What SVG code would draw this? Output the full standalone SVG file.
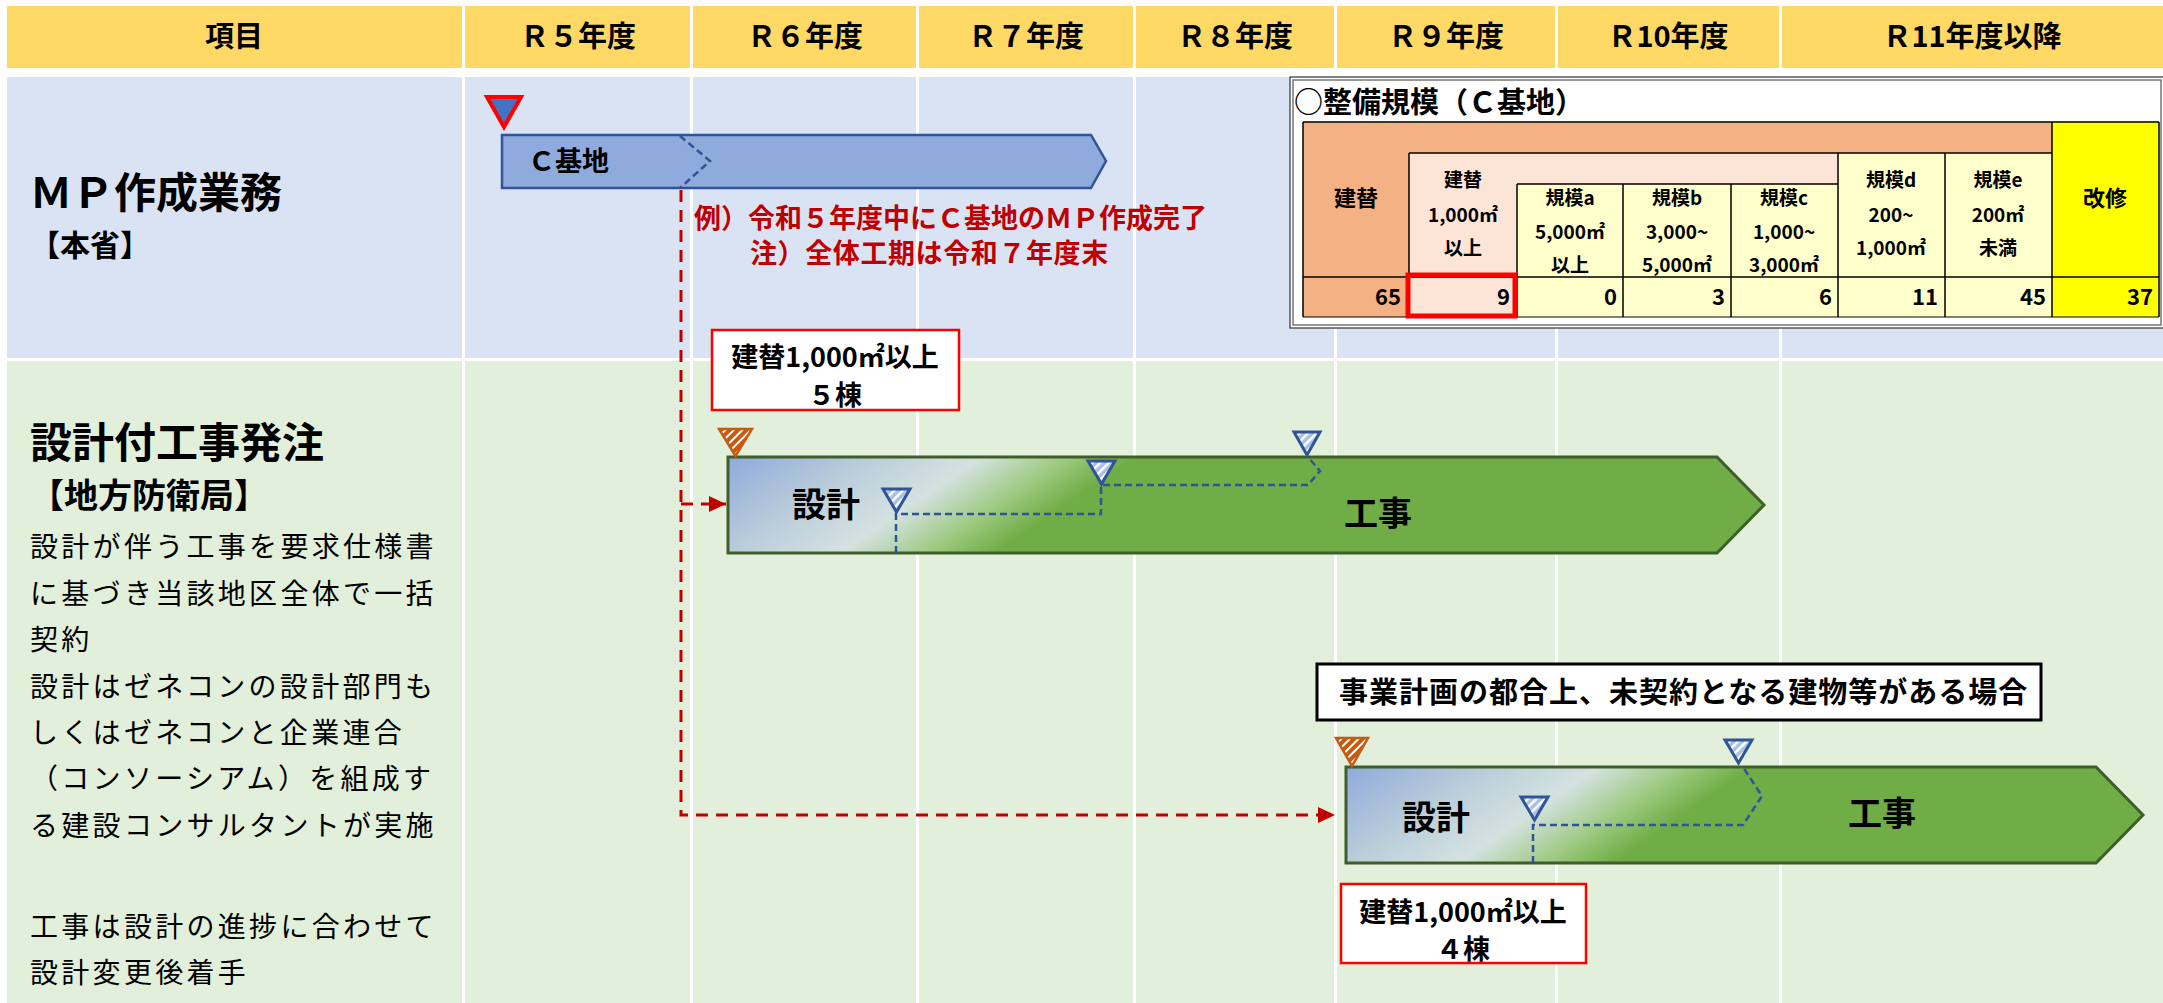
<svg xmlns="http://www.w3.org/2000/svg" width="2163" height="1003" viewBox="0 0 2163 1003">
<defs>
<style>
text{font-family:'Noto Sans CJK JP','Noto Sans',sans-serif;fill:#000}
.hd{font-size:29px;font-weight:bold;text-anchor:middle}
.ttl{font-size:42px;font-weight:bold}
.body{font-size:28px;letter-spacing:3.3px}
.ann{font-size:27px;font-weight:bold;fill:#C00000}
.bar{font-size:34px;font-weight:bold;text-anchor:middle}
.call{font-size:27px;font-weight:bold;text-anchor:middle}
.tc{font-size:19px;font-weight:bold;text-anchor:middle}
.tcl{font-size:22px;font-weight:bold;text-anchor:middle}
.tv{font-size:22px;font-weight:bold;text-anchor:end}
.bgH{fill:#FFD966}
.bgB{fill:#DAE3F3}
.bgG{fill:#E2EFDA}
.tl{stroke:#000;stroke-width:1.5;fill:none}
.ms{stroke:#2F5597;stroke-width:3;fill:url(#hatchB)}
.mo{stroke:#C55A11;stroke-width:2.5;fill:url(#hatchO)}
.bd{fill:none;stroke:#2F5597;stroke-width:2.5;stroke-dasharray:7 4}
.rd{fill:none;stroke:#C00000;stroke-width:3;stroke-dasharray:12 8}
.gbar{fill:url(#gbar);stroke:#3E5F2A;stroke-width:3}
.rbox{fill:#fff;stroke:#FF0000;stroke-width:2.5}
</style>
<pattern id="hatchB" width="6" height="6" patternUnits="userSpaceOnUse" patternTransform="rotate(45)">
<rect width="6" height="6" fill="#A9BFE6"/><rect width="2.5" height="6" fill="#fff"/>
</pattern>
<pattern id="hatchO" width="6" height="6" patternUnits="userSpaceOnUse" patternTransform="rotate(45)">
<rect width="6" height="6" fill="#C55A11"/><rect width="2" height="6" fill="#fff"/>
</pattern>
<linearGradient id="gbar" gradientUnits="userSpaceOnUse" x1="0" y1="0" x2="130" y2="190">
<stop offset="0" stop-color="#8FAADC"/>
<stop offset="0.35" stop-color="#BACDDA"/>
<stop offset="0.62" stop-color="#D4E2E0"/>
<stop offset="0.84" stop-color="#9CC97E"/>
<stop offset="1" stop-color="#70AD47"/>
</linearGradient>
<marker id="arr" viewBox="0 0 17 16" refX="17" refY="8" markerWidth="17" markerHeight="16" markerUnits="userSpaceOnUse" orient="auto">
<path d="M0,0 L17,8 L0,16 z" fill="#C00000"/>
</marker>
</defs>
<rect width="2163" height="1003" fill="#fff"/>

<g id="grid">
<rect class="bgH" x="7" y="6" width="455" height="62"/>
<rect class="bgH" x="465" y="6" width="225" height="62"/>
<rect class="bgH" x="693" y="6" width="223" height="62"/>
<rect class="bgH" x="919" y="6" width="214" height="62"/>
<rect class="bgH" x="1136" y="6" width="198" height="62"/>
<rect class="bgH" x="1337" y="6" width="218" height="62"/>
<rect class="bgH" x="1558" y="6" width="221" height="62"/>
<rect class="bgH" x="1782" y="6" width="381" height="62"/>
<rect class="bgB" x="7" y="77" width="455" height="281"/>
<rect class="bgB" x="465" y="77" width="225" height="281"/>
<rect class="bgB" x="693" y="77" width="223" height="281"/>
<rect class="bgB" x="919" y="77" width="214" height="281"/>
<rect class="bgB" x="1136" y="77" width="198" height="281"/>
<rect class="bgB" x="1337" y="77" width="218" height="281"/>
<rect class="bgB" x="1558" y="77" width="221" height="281"/>
<rect class="bgB" x="1782" y="77" width="381" height="281"/>
<rect class="bgG" x="7" y="361" width="455" height="642"/>
<rect class="bgG" x="465" y="361" width="225" height="642"/>
<rect class="bgG" x="693" y="361" width="223" height="642"/>
<rect class="bgG" x="919" y="361" width="214" height="642"/>
<rect class="bgG" x="1136" y="361" width="198" height="642"/>
<rect class="bgG" x="1337" y="361" width="218" height="642"/>
<rect class="bgG" x="1558" y="361" width="221" height="642"/>
<rect class="bgG" x="1782" y="361" width="381" height="642"/>
</g>

<g id="header">
<text class="hd" x="234" y="47">項目</text>
<text class="hd" x="578" y="47">Ｒ５年度</text>
<text class="hd" x="805" y="47">Ｒ６年度</text>
<text class="hd" x="1026" y="47">Ｒ７年度</text>
<text class="hd" x="1235" y="47">Ｒ８年度</text>
<text class="hd" x="1446" y="47">Ｒ９年度</text>
<text class="hd" x="1668" y="47">Ｒ10年度</text>
<text class="hd" x="1972" y="47">Ｒ11年度以降</text>
</g>

<g id="row-mp-label">
<text class="ttl" x="30" y="208">ＭＰ作成業務</text>
<text x="30" y="256" font-size="30" font-weight="bold">【本省】</text>
</g>

<g id="row-design-label">
<text class="ttl" x="30" y="458">設計付工事発注</text>
<text x="30" y="508" font-size="34" font-weight="bold">【地方防衛局】</text>
<text class="body" x="30" y="557">設計が伴う工事を要求仕様書</text>
<text class="body" x="30" y="604">に基づき当該地区全体で一括</text>
<text class="body" x="30" y="650">契約</text>
<text class="body" x="30" y="697">設計はゼネコンの設計部門も</text>
<text class="body" x="30" y="743">しくはゼネコンと企業連合</text>
<text class="body" x="30" y="789">（コンソーシアム）を組成す</text>
<text class="body" x="30" y="836">る建設コンサルタントが実施</text>
<text class="body" x="30" y="937">工事は設計の進捗に合わせて</text>
<text class="body" x="30" y="983">設計変更後着手</text>
</g>

<g id="scale-table">
<rect x="1290" y="77" width="880" height="251" fill="#fff" stroke="#404040" stroke-width="1.3"/>
<rect x="1293" y="80" width="868" height="245" fill="none" stroke="#606060" stroke-width="1.3"/>
<text x="1294" y="113" font-size="29" font-weight="bold">○整備規模（Ｃ基地）</text>
<rect x="1303" y="122" width="749" height="195" fill="#F4B183"/>
<rect x="1409" y="153" width="429" height="164" fill="#FCE4D6"/>
<rect x="1517" y="184" width="321" height="133" fill="#FFFFCC"/>
<rect x="1838" y="153" width="214" height="164" fill="#FFFFCC"/>
<rect x="2052" y="122" width="107" height="195" fill="#FFFF00"/>
<path class="tl" d="M1303,122 H2159 M1303,122 V317 M2159,122 V317 M1409,153 V317 M1409,153 H2052 M1517,184 H1838 M1517,184 V317 M1623,184 V317 M1731,184 V317 M1838,153 V317 M1945,153 V317 M2052,122 V317 M1303,277 H2159"/>
<path d="M1303,317 H2159" stroke="#000" stroke-width="1"/>
<text class="tcl" x="1356" y="206">建替</text>
<text class="tc" x="1463" y="187">建替</text>
<text class="tc" x="1463" y="222">1,000㎡</text>
<text class="tc" x="1463" y="255">以上</text>
<text class="tc" x="1570" y="205">規模a</text>
<text class="tc" x="1570" y="239">5,000㎡</text>
<text class="tc" x="1570" y="272">以上</text>
<text class="tc" x="1677" y="205">規模b</text>
<text class="tc" x="1677" y="239">3,000~</text>
<text class="tc" x="1677" y="272">5,000㎡</text>
<text class="tc" x="1784" y="205">規模c</text>
<text class="tc" x="1784" y="239">1,000~</text>
<text class="tc" x="1784" y="272">3,000㎡</text>
<text class="tc" x="1891" y="187">規模d</text>
<text class="tc" x="1891" y="222">200~</text>
<text class="tc" x="1891" y="255">1,000㎡</text>
<text class="tc" x="1998" y="187">規模e</text>
<text class="tc" x="1998" y="222">200㎡</text>
<text class="tc" x="1998" y="255">未満</text>
<text class="tcl" x="2105" y="206">改修</text>
<text class="tv" x="1401" y="305">65</text>
<text class="tv" x="1510" y="305">9</text>
<text class="tv" x="1617" y="305">0</text>
<text class="tv" x="1725" y="305">3</text>
<text class="tv" x="1832" y="305">6</text>
<text class="tv" x="1938" y="305">11</text>
<text class="tv" x="2046" y="305">45</text>
<text class="tv" x="2153" y="305">37</text>
<rect x="1408" y="275" width="107" height="41" fill="none" stroke="#FF0000" stroke-width="5"/>
</g>

<g id="mp-bar">
<polygon points="502,135 1091,135 1106,161 1091,188 502,188" fill="#8FAADC" stroke="#2F5597" stroke-width="2.5"/>
<path class="bd" d="M680,136 L710,161 L680,188"/>
<text x="528" y="171" font-size="27" font-weight="bold">Ｃ基地</text>
</g>

<g id="annotation">
<text class="ann" x="694" y="228">例）令和５年度中にＣ基地のＭＰ作成完了</text>
<text class="ann" x="750" y="263" letter-spacing="0.6">注）全体工期は令和７年度末</text>
</g>

<g id="bar-1" transform="translate(728,457)">
<polygon class="gbar" points="0,0 989,0 1036,48 989,96 0,96"/>
<text class="bar" x="98" y="60">設計</text>
<text class="bar" x="650" y="69">工事</text>
</g>

<g id="bar-2" transform="translate(1346,767)">
<polygon class="gbar" points="0,0 750,0 797,48 750,96 0,96"/>
<text class="bar" x="90" y="63">設計</text>
<text class="bar" x="536" y="59">工事</text>
</g>

<g id="connectors">
<path class="rd" d="M681,190 V815 H1335" marker-end="url(#arr)"/>
<path class="rd" d="M681,504 H726" marker-end="url(#arr)"/>
<path class="bd" d="M896,553 V514 H1101 V485 H1308 L1320,471 L1308,457"/>
<path class="bd" d="M1533,863 V825 H1743 L1762,796 L1743,767"/>
</g>

<g id="milestones">
<polygon points="487,97 521,97 504,127" fill="#4472C4" stroke="#FF0000" stroke-width="4"/>
<polygon class="mo" points="719,429 752,429 735.5,456"/>
<polygon class="ms" points="883,489 910,489 896.5,512"/>
<polygon class="ms" points="1088,461 1115,461 1101.5,484"/>
<polygon class="ms" points="1294,432 1320,432 1307,455"/>
<polygon class="mo" points="1336,738 1368,738 1352,766"/>
<polygon class="ms" points="1521,797 1548,797 1534.5,820"/>
<polygon class="ms" points="1725,740 1752,740 1738.5,763"/>
</g>

<g id="callout-5">
<rect class="rbox" x="712" y="330" width="247" height="80"/>
<text class="call" x="835" y="367">建替1,000㎡以上</text>
<text class="call" x="835" y="405">５棟</text>
</g>

<g id="callout-4">
<rect class="rbox" x="1341" y="884" width="245" height="79"/>
<text class="call" x="1463" y="922">建替1,000㎡以上</text>
<text class="call" x="1463" y="959">４棟</text>
</g>

<g id="callout-note">
<rect x="1317" y="664" width="724" height="56" fill="#fff" stroke="#000" stroke-width="3"/>
<text x="1339" y="703" font-size="29" font-weight="bold" letter-spacing="1">事業計画の都合上、未契約となる建物等がある場合</text>
</g>
</svg>
